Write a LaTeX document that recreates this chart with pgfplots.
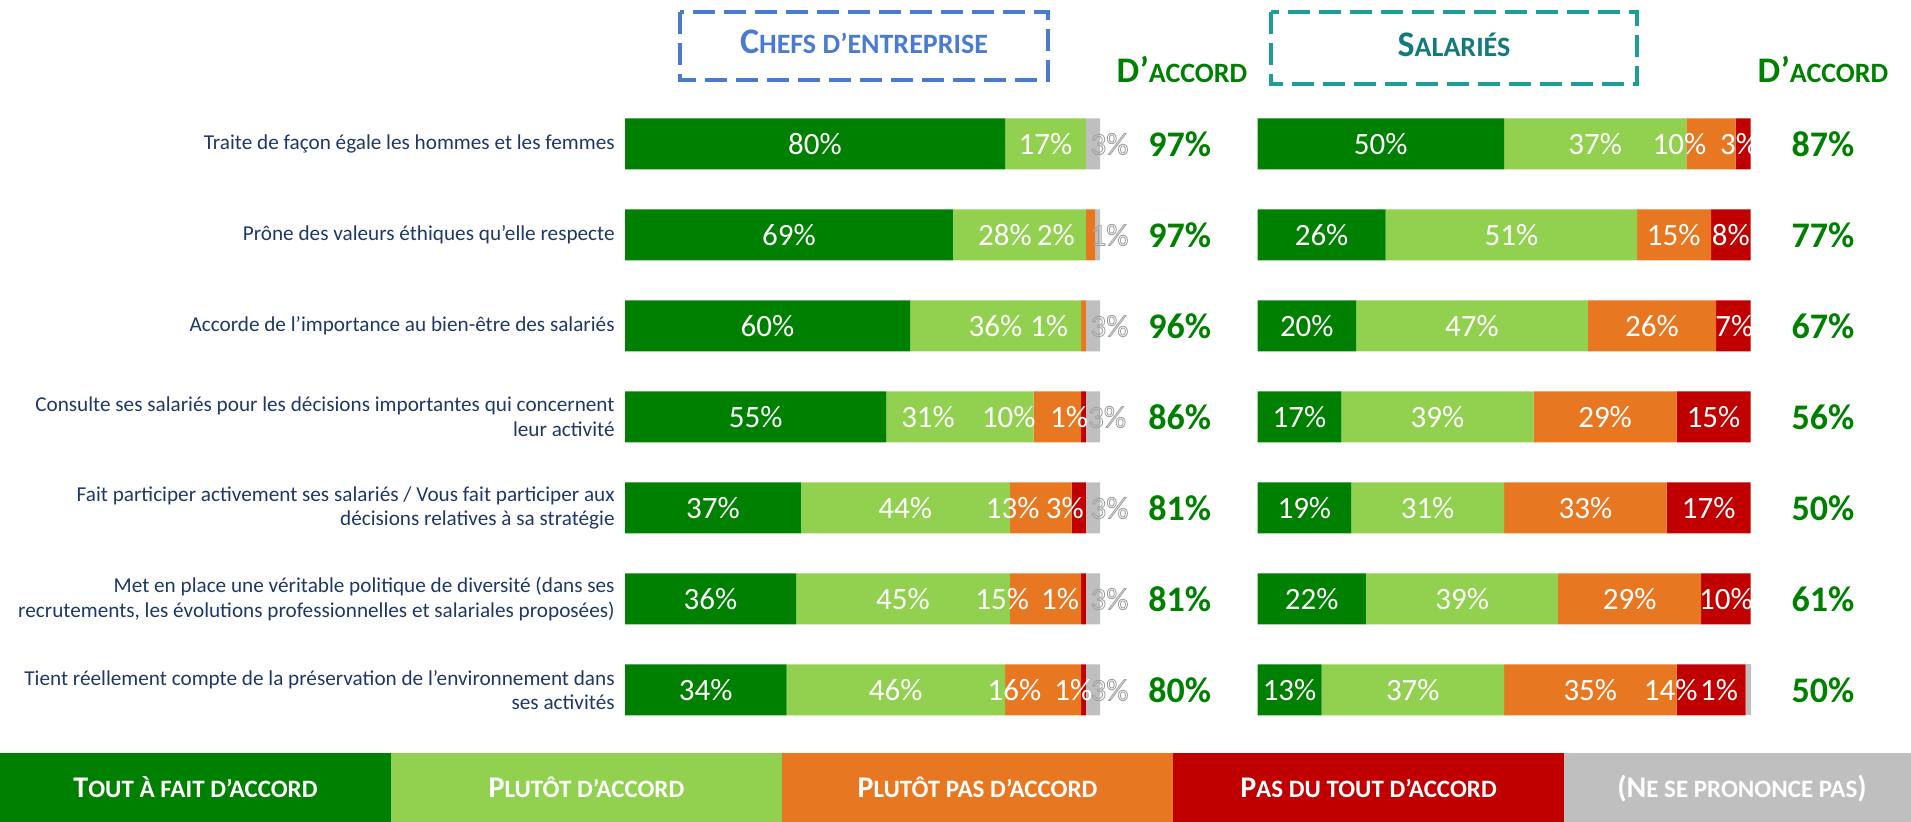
\documentclass[border=0pt]{standalone}
\usepackage{pgfplots}
\pgfplotsset{compat=1.18}
\usepackage{pgfplotstable}
\usepackage{fontspec}
\setmainfont{Carlito}
\definecolor{cDG}{HTML}{008000}
\definecolor{cLG}{HTML}{92D050}
\definecolor{cOR}{HTML}{E87722}
\definecolor{cRD}{HTML}{C00000}
\definecolor{cGY}{HTML}{BFBFBF}
\definecolor{cNavy}{HTML}{1F3864}
\definecolor{cBlue}{HTML}{4A7BD0}
\definecolor{cTealBox}{HTML}{1A9E96}
\definecolor{cTealTxt}{HTML}{127A7A}
\newcommand\SC[4]{{\fontsize{#1}{#1}\selectfont #3}{\fontsize{#2}{#2}\selectfont #4}}
\newcommand\outl[1]{\special{pdf:literal direct 1 Tr 0.45 w}#1\special{pdf:literal direct 0 Tr}}

% Chefs d'entreprise
\pgfplotstableread{
row tfa pda ppa pta nsp
1 80 17 0 0 3
2 69 28 2 0 1
3 60 36 1 0 3
4 55 31 10 1 3
5 37 44 13 3 3
6 36 45 15 1 3
7 34 46 16 1 3
}\leftdata
% Salariés
\pgfplotstableread{
row tfa pda ppa pta nsp
1 50 37 10 3 0
2 26 51 15 8 0
3 20 47 26 7 0
4 17 39 29 15 0
5 19 31 33 17 0
6 22 39 29 10 0
7 13 37 35 14 1
}\rightdata
% label positions (left)
\pgfplotstableread{
x y v
40 1 80
88.5 1 17
34.5 2 69
80 2 28
90.7 2 2
30 3 60
78 3 36
89.3 3 1
27.5 4 55
63.8 4 31
80.8 4 10
93.5 4 1
18.5 5 37
59 5 44
81.6 5 13
92.6 5 3
18 6 36
58.5 6 45
79.4 6 15
91.6 6 1
17 7 34
57 7 46
82 7 16
94.4 7 1
}\leftlab
\pgfplotstableread{
x y v
102 1 3
102 2 1
102 3 3
101.5 4 3
102 5 3
102 6 3
102 7 3
}\leftgray
\pgfplotstableread{
x y v
25 1 50
68.5 1 37
85.6 1 10
97.7 1 3
13 2 26
51.5 2 51
84.4 2 15
96 2 8
10 3 20
43.5 3 47
80 3 26
96.7 3 7
8.5 4 17
36.5 4 39
70.5 4 29
92.5 4 15
9.5 5 19
34.5 5 31
66.5 5 33
91.5 5 17
11 6 22
41.5 6 39
75.5 6 29
95 6 10
6.5 7 13
31.5 7 37
67.5 7 35
83.8 7 14
93.6 7 1
}\rightlab
\pgfplotstableread{
x y v
116.8 1 97
116.8 2 97
116.8 3 96
116.8 4 86
116.8 5 81
116.8 6 81
116.8 7 80
}\lefttot
\pgfplotstableread{
x y v
114.7 1 87
114.7 2 77
114.7 3 67
114.7 4 56
114.7 5 50
114.7 6 61
114.7 7 50
}\righttot

\pgfplotsset{
  base/.style={scale only axis, height=318.5pt, ymin=0.5, ymax=7.5, y dir=reverse,
    xmin=0, xmax=100, axis line style={draw=none}, tick style={draw=none},
    major tick length=0pt, xtick=\empty, ytick=\empty, clip=false, anchor=north west},
  seg/.style={draw=none, fill=#1},
  lab/.style={only marks, mark=none, point meta=explicit symbolic,
    nodes near coords={\pgfplotspointmeta\%}, nodes near coords align={center},
    nodes near coords style={anchor=center, inner sep=0pt, text=white,
      font=\fontsize{15.5}{15.5}\selectfont}},
  glab/.style={only marks, mark=none, point meta=explicit symbolic,
    nodes near coords={\outl{\pgfplotspointmeta\%}}, nodes near coords align={center},
    nodes near coords style={anchor=center, inner sep=0pt, text=cGY!85!black,
      font=\fontsize{15.5}{15.5}\selectfont}},
  tlab/.style={only marks, mark=none, point meta=explicit symbolic,
    nodes near coords={\pgfplotspointmeta\%}, nodes near coords align={center},
    nodes near coords style={anchor=center, inner sep=0pt, text=cDG,
      font=\fontsize{18}{18}\selectfont\bfseries}},
}

\begin{document}
\begin{tikzpicture}
\path[use as bounding box] (0pt,0pt) rectangle (955.5pt,-411pt);

% headers
\draw[cBlue, line width=1.7pt, dash pattern=on 11pt off 4.5pt] (340pt,-6pt) rectangle (524pt,-40pt);
\node[anchor=base, text=cBlue, inner sep=0pt] at (432pt,-27pt) {\bfseries\SC{18}{14}{C}{HEFS D’ENTREPRISE}};
\draw[cTealBox, line width=1.7pt, dash pattern=on 11pt off 4.5pt] (635.5pt,-6pt) rectangle (818.5pt,-42pt);
\node[anchor=base, text=cTealTxt, inner sep=0pt] at (727pt,-28.5pt) {\bfseries\SC{18}{14}{S}{ALARIÉS}};
\node[anchor=base, text=cDG, inner sep=0pt] at (591pt,-41.5pt) {\bfseries\SC{18}{14}{D’}{ACCORD}};
\node[anchor=base, text=cDG, inner sep=0pt] at (911.5pt,-41.5pt) {\bfseries\SC{18}{14}{D’}{ACCORD}};

% left bars
\begin{axis}[base, width=237.5pt, at={(312.5pt,-49.25pt)}, xbar stacked, bar width=25.5pt,
  ytick={1,...,7},
  yticklabels={
    {Traite de façon égale les hommes et les femmes},
    {Prône des valeurs éthiques qu’elle respecte},
    {Accorde de l’importance au bien-être des salariés},
    {Consulte ses salariés pour les décisions importantes qui concernent\\leur activité},
    {Fait participer activement ses salariés / Vous fait participer aux\\décisions relatives à sa stratégie},
    {Met en place une véritable politique de diversité (dans ses\\recrutements, les évolutions professionnelles et salariales proposées)},
    {Tient réellement compte de la préservation de l’environnement dans\\ses activités}},
  yticklabel style={font=\fontsize{10.6}{12.3}\selectfont, text=cNavy, align=right, inner sep=0pt, xshift=-5pt}]
\addplot[seg=cDG] table[x=tfa, y=row] {\leftdata};
\addplot[seg=cLG] table[x=pda, y=row] {\leftdata};
\addplot[seg=cOR] table[x=ppa, y=row] {\leftdata};
\addplot[seg=cRD] table[x=pta, y=row] {\leftdata};
\addplot[seg=cGY] table[x=nsp, y=row] {\leftdata};
\end{axis}
\begin{axis}[base, width=237.5pt, at={(312.5pt,-49.25pt)}]
\addplot[lab] table[x=x, y=y, meta=v] {\leftlab};
\addplot[glab] table[x=x, y=y, meta=v] {\leftgray};
\addplot[tlab] table[x=x, y=y, meta=v] {\lefttot};
\end{axis}

% right bars
\begin{axis}[base, width=246.5pt, at={(628.75pt,-49.25pt)}, xbar stacked, bar width=25.5pt]
\addplot[seg=cDG] table[x=tfa, y=row] {\rightdata};
\addplot[seg=cLG] table[x=pda, y=row] {\rightdata};
\addplot[seg=cOR] table[x=ppa, y=row] {\rightdata};
\addplot[seg=cRD] table[x=pta, y=row] {\rightdata};
\addplot[seg=cGY] table[x=nsp, y=row] {\rightdata};
\end{axis}
\begin{axis}[base, width=246.5pt, at={(628.75pt,-49.25pt)}]
\addplot[lab] table[x=x, y=y, meta=v] {\rightlab};
\addplot[tlab] table[x=x, y=y, meta=v] {\righttot};
\end{axis}

% legend band
\fill[cDG] (0pt,-376.5pt) rectangle (195.5pt,-411pt);
\fill[cLG] (195.5pt,-376.5pt) rectangle (391pt,-411pt);
\fill[cOR] (391pt,-376.5pt) rectangle (586.5pt,-411pt);
\fill[cRD] (586.5pt,-376.5pt) rectangle (782pt,-411pt);
\fill[cGY] (782pt,-376.5pt) rectangle (955.5pt,-411pt);
\node[anchor=base, text=white, inner sep=0pt] at (97.75pt,-399pt) {\bfseries\SC{15}{12.5}{T}{OUT À FAIT D’ACCORD}};
\node[anchor=base, text=white, inner sep=0pt] at (293.25pt,-399pt) {\bfseries\SC{15}{12.5}{P}{LUTÔT D’ACCORD}};
\node[anchor=base, text=white, inner sep=0pt] at (488.75pt,-399pt) {\bfseries\SC{15}{12.5}{P}{LUTÔT PAS D’ACCORD}};
\node[anchor=base, text=white, inner sep=0pt] at (684.25pt,-399pt) {\bfseries\SC{15}{12.5}{P}{AS DU TOUT D’ACCORD}};
\node[anchor=base, text=white, inner sep=0pt] at (871pt,-399pt) {\bfseries\SC{15}{12.5}{(N}{E SE PRONONCE PAS}{\fontsize{15}{15}\selectfont )}};
\end{tikzpicture}
\end{document}
